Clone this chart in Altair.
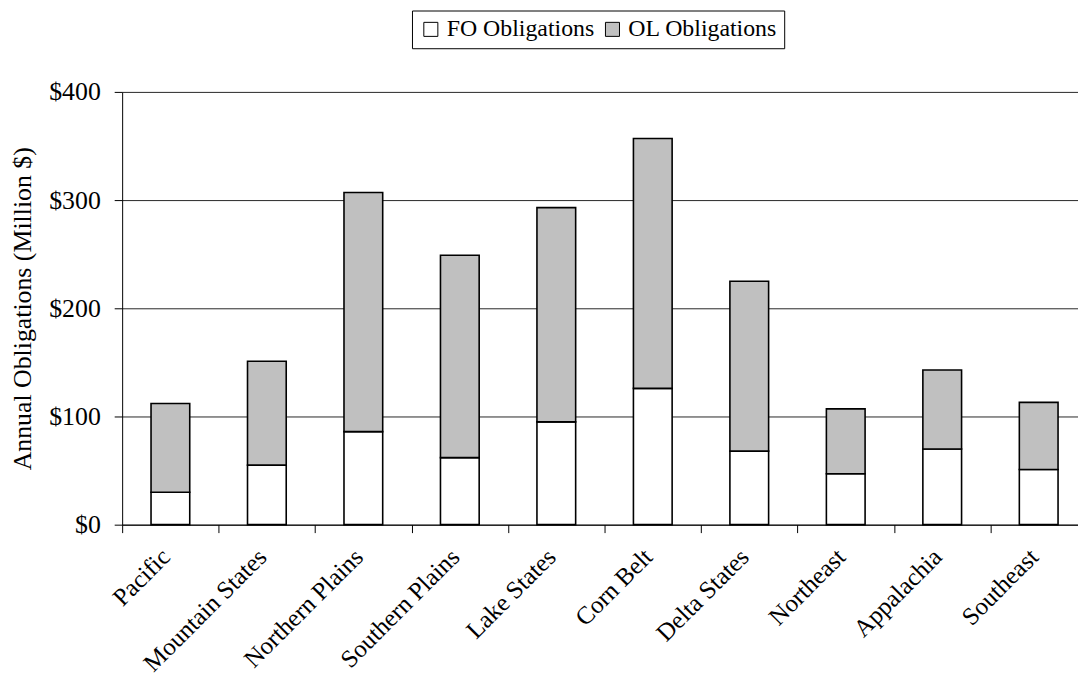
import altair as alt
import pandas as pd

regions = ["Pacific", "Mountain States", "Northern Plains", "Southern Plains", "Lake States",
           "Corn Belt", "Delta States", "Northeast", "Appalachia", "Southeast"]
fo = [30, 55, 86, 62, 95, 126, 68, 47, 70, 51]
ol = [82, 96, 221, 187, 198, 231, 157, 60, 73, 62]
series = ["FO Obligations", "OL Obligations"]
y_ticks = [0, 100, 200, 300, 400]

rows = []
for r, f, o in zip(regions, fo, ol):
    rows.append({"region": r, "series": series[0], "value": f, "order": 0})
    rows.append({"region": r, "series": series[1], "value": o, "order": 1})
df = pd.DataFrame(rows)

font = "Liberation Serif"

chart = alt.Chart(df).mark_bar(size=39, stroke="black", strokeWidth=1.6).encode(
    x=alt.X("region:N", sort=regions,
            scale=alt.Scale(paddingInner=0, paddingOuter=0, range=[0, 972]),
            axis=alt.Axis(title=None, labelAngle=-45, labelAlign="right", labelBaseline="middle",
                          labelPadding=20, labelOffset=-5, tickBand="extent", tickSize=8,
                          tickColor="black", domainColor="black", labelColor="black",
                          labelFont=font, labelFontSize=25, grid=False)),
    y=alt.Y("value:Q", stack="zero",
            scale=alt.Scale(domain=[0, 400], nice=False),
            axis=alt.Axis(title="Annual Obligations (Million $)", values=y_ticks,
                          labelExpr="'$' + datum.value", grid=True, gridColor="black",
                          gridOpacity=0.85, tickSize=8, tickColor="black", domainColor="black",
                          labelColor="black", labelFont=font, labelFontSize=26, labelPadding=14,
                          titleFont=font, titleFontSize=26, titleFontWeight="normal",
                          titleColor="black", titlePadding=13)),
    color=alt.Color("series:N", sort=series,
                    scale=alt.Scale(domain=series, range=["#ffffff", "#c0c0c0"]),
                    legend=alt.Legend(orient="none", legendX=292, legendY=-82,
                                      direction="horizontal", title=None, strokeColor="black",
                                      padding=7, symbolType="square", symbolSize=200,
                                      symbolStrokeColor="black", symbolStrokeWidth=1,
                                      labelFont=font, labelFontSize=24, labelColor="black",
                                      columnPadding=6, labelOffset=4)),
    order=alt.Order("order:Q"),
).properties(
    width=963, height=436,
    autosize=alt.AutoSizeParams(type="none"),
    padding={"left": 115, "top": 82, "right": 0, "bottom": 159},
).configure_view(stroke="transparent")

chart.save("out.html", embed_options={"renderer": "svg", "actions": False})
